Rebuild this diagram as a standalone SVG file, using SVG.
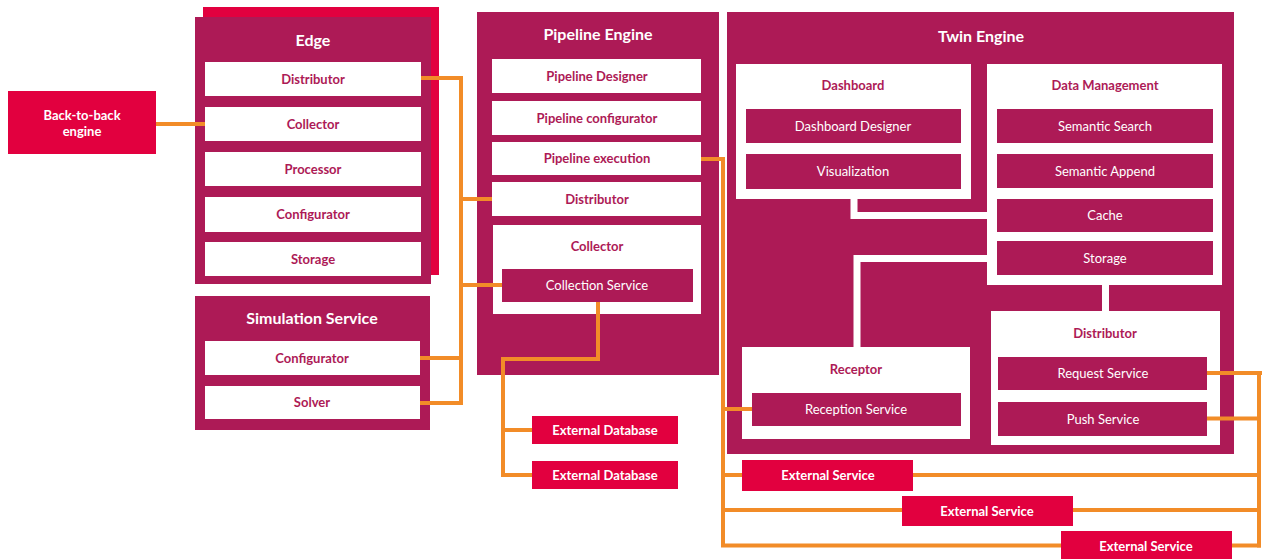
<svg xmlns="http://www.w3.org/2000/svg" width="1262" height="559" viewBox="0 0 1262 559">
  <style>
    .purple { fill: #AD1A56; }
    .red { fill: #E2003F; }
    .white { fill: #FFFFFF; }
    .title { font-family: Lato, "Open Sans", sans-serif; font-weight: 700; font-size: 16px; fill: #FFFFFF; text-anchor: middle; }
    .lbl { font-family: Lato, "Open Sans", sans-serif; font-weight: 700; font-size: 13px; fill: #AD1A56; text-anchor: middle; }
    .svc { font-family: Lato, "Open Sans", sans-serif; font-weight: 400; font-size: 13px; fill: #FFFFFF; text-anchor: middle; }
    .ext { font-family: Lato, "Open Sans", sans-serif; font-weight: 700; font-size: 13px; fill: #FFFFFF; text-anchor: middle; }
    .wire { fill: none; stroke: #F28C28; stroke-width: 4; }
    .link { fill: none; stroke: #FFFFFF; stroke-width: 7; }
  </style>

  <rect width="1262" height="559" fill="#FFFFFF"/>

  <!-- Back-to-back engine -->
  <g id="back-to-back">
    <rect class="red" x="8" y="91" width="148" height="63"/>
    <text class="ext" x="82" y="120">Back-to-back</text>
    <text class="ext" x="82" y="136">engine</text>
  </g>

  <!-- Edge (stacked instances) -->
  <g id="edge">
    <rect class="red" x="203" y="7" width="236" height="268"/>
    <rect class="purple" x="195" y="17" width="236" height="267"/>
    <text class="title" x="313" y="46">Edge</text>
    <rect class="white" x="205" y="62" width="216" height="34"/>
    <text class="lbl" x="313" y="83.5">Distributor</text>
    <rect class="white" x="205" y="107" width="216" height="34"/>
    <text class="lbl" x="313" y="128.5">Collector</text>
    <rect class="white" x="205" y="152" width="216" height="34"/>
    <text class="lbl" x="313" y="173.5">Processor</text>
    <rect class="white" x="205" y="197" width="216" height="35"/>
    <text class="lbl" x="313" y="219">Configurator</text>
    <rect class="white" x="205" y="242" width="216" height="34"/>
    <text class="lbl" x="313" y="263.5">Storage</text>
  </g>

  <!-- Simulation Service -->
  <g id="simulation-service">
    <rect class="purple" x="195" y="296" width="235" height="134"/>
    <text class="title" x="312" y="324">Simulation Service</text>
    <rect class="white" x="205" y="341" width="215" height="34"/>
    <text class="lbl" x="312" y="362.5">Configurator</text>
    <rect class="white" x="205" y="386" width="215" height="33"/>
    <text class="lbl" x="312" y="407">Solver</text>
  </g>

  <!-- Pipeline Engine -->
  <g id="pipeline-engine">
    <rect class="purple" x="477" y="12" width="242" height="363"/>
    <text class="title" x="598" y="40">Pipeline Engine</text>
    <rect class="white" x="492" y="59" width="209" height="34"/>
    <text class="lbl" x="597" y="80.5">Pipeline Designer</text>
    <rect class="white" x="492" y="101" width="209" height="34"/>
    <text class="lbl" x="597" y="122.5">Pipeline configurator</text>
    <rect class="white" x="492" y="142" width="209" height="33"/>
    <text class="lbl" x="597" y="163">Pipeline execution</text>
    <rect class="white" x="492" y="182" width="209" height="34"/>
    <text class="lbl" x="597" y="203.5">Distributor</text>
    <rect class="white" x="493" y="225" width="208" height="89"/>
    <text class="lbl" x="597" y="250.5">Collector</text>
    <rect class="purple" x="502" y="269" width="191" height="33"/>
    <text class="svc" x="597" y="290">Collection Service</text>
  </g>

  <!-- Twin Engine -->
  <g id="twin-engine">
    <rect class="purple" x="727" y="12" width="507" height="442"/>
    <text class="title" x="981" y="42">Twin Engine</text>
  </g>

  <!-- Internal links inside the Twin Engine -->
  <g id="twin-links">
    <polyline class="link" points="854,196 854,215.5 990,215.5"/>
    <polyline class="link" points="990,258.5 857,258.5 857,350"/>
    <line class="link" x1="1105.5" y1="282" x2="1105.5" y2="314"/>
  </g>

  <g id="dashboard">
    <rect class="white" x="736" y="64" width="235" height="135"/>
    <text class="lbl" x="853" y="90">Dashboard</text>
    <rect class="purple" x="746" y="109" width="215" height="34"/>
    <text class="svc" x="853" y="130.5">Dashboard Designer</text>
    <rect class="purple" x="746" y="154" width="215" height="35"/>
    <text class="svc" x="853" y="176">Visualization</text>
  </g>

  <g id="data-management">
    <rect class="white" x="987" y="64" width="235" height="221"/>
    <text class="lbl" x="1105" y="90">Data Management</text>
    <rect class="purple" x="997" y="109" width="216" height="34"/>
    <text class="svc" x="1105" y="130.5">Semantic Search</text>
    <rect class="purple" x="997" y="154" width="216" height="34"/>
    <text class="svc" x="1105" y="175.5">Semantic Append</text>
    <rect class="purple" x="997" y="199" width="216" height="33"/>
    <text class="svc" x="1105" y="220">Cache</text>
    <rect class="purple" x="997" y="241" width="216" height="34"/>
    <text class="svc" x="1105" y="262.5">Storage</text>
  </g>

  <g id="receptor">
    <rect class="white" x="742" y="347" width="228" height="92"/>
    <text class="lbl" x="856" y="373.5">Receptor</text>
    <rect class="purple" x="752" y="393" width="209" height="33"/>
    <text class="svc" x="856" y="414">Reception Service</text>
  </g>

  <g id="distributor">
    <rect class="white" x="991" y="311" width="229" height="134"/>
    <text class="lbl" x="1105" y="337.5">Distributor</text>
    <rect class="purple" x="998" y="357" width="209" height="33"/>
    <text class="svc" x="1103" y="378">Request Service</text>
    <rect class="purple" x="998" y="402" width="209" height="34"/>
    <text class="svc" x="1103" y="423.5">Push Service</text>
  </g>

  <!-- Connectors -->
  <g id="connectors">
    <line class="wire" x1="156" y1="124" x2="205" y2="124"/>
    <polyline class="wire" points="421,78 461,78 461,403 420,403"/>
    <line class="wire" x1="420" y1="358" x2="461" y2="358"/>
    <line class="wire" x1="461" y1="199" x2="492" y2="199"/>
    <line class="wire" x1="461" y1="285" x2="502" y2="285"/>
    <polyline class="wire" points="598,302 598,359 503,359 503,475 532,475"/>
    <line class="wire" x1="503" y1="430" x2="532" y2="430"/>
    <polyline class="wire" points="701,159 723,159 723,545.5 1061,545.5"/>
    <line class="wire" x1="723" y1="409" x2="752" y2="409"/>
    <line class="wire" x1="723" y1="475" x2="742" y2="475"/>
    <line class="wire" x1="723" y1="510" x2="902" y2="510"/>
    <polyline class="wire" points="1207,373 1262,373"/>
    <line class="wire" x1="1259" y1="373" x2="1259" y2="547.5"/>
    <line class="wire" x1="1207" y1="418.5" x2="1259" y2="418.5"/>
    <line class="wire" x1="913" y1="475" x2="1259" y2="475"/>
    <line class="wire" x1="1073" y1="510" x2="1259" y2="510"/>
    <line class="wire" x1="1232" y1="545.5" x2="1261" y2="545.5"/>
  </g>

  <!-- External systems -->
  <g id="external-database-1">
    <rect class="red" x="532" y="416" width="146" height="28"/>
    <text class="ext" x="605" y="434.5">External Database</text>
  </g>
  <g id="external-database-2">
    <rect class="red" x="532" y="461" width="146" height="28"/>
    <text class="ext" x="605" y="479.5">External Database</text>
  </g>
  <g id="external-service-1">
    <rect class="red" x="742" y="460" width="171" height="31"/>
    <text class="ext" x="828" y="480">External Service</text>
  </g>
  <g id="external-service-2">
    <rect class="red" x="902" y="496" width="171" height="30"/>
    <text class="ext" x="987" y="515.5">External Service</text>
  </g>
  <g id="external-service-3">
    <rect class="red" x="1061" y="531" width="171" height="30"/>
    <text class="ext" x="1146" y="551">External Service</text>
  </g>
</svg>
